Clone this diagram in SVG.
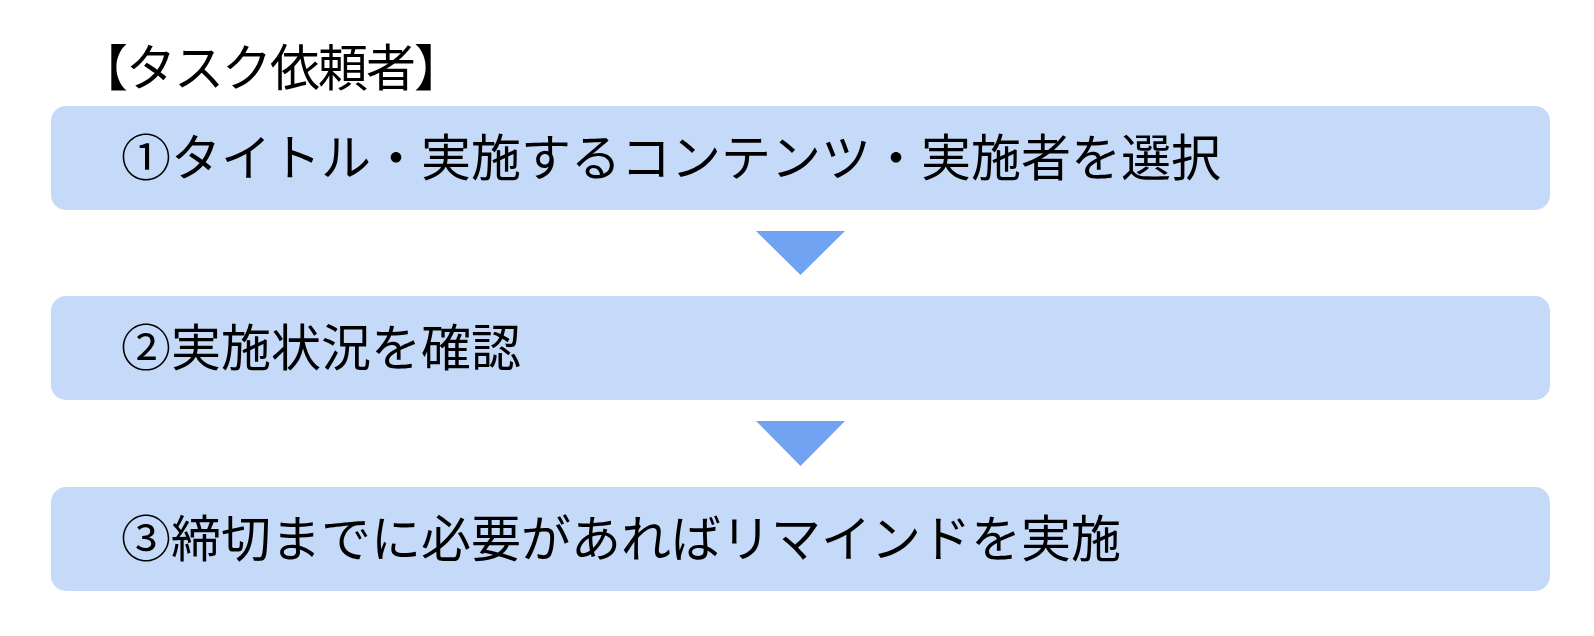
<svg xmlns="http://www.w3.org/2000/svg" width="1594" height="636" viewBox="0 0 1594 636">
<style>
.box{fill:#C5DAF8}
.arr{fill:#71A3F3}
.t{font-family:"Noto Sans CJK JP","Noto Sans CJK SC",sans-serif;fill:#000}
.lbl{font-size:50px}
.ttl{font-size:50px;letter-spacing:-2px}
</style>
<rect width="1594" height="636" fill="#fff"/>
<g id="title"><text class="t ttl" x="78" y="86">【タスク依頼者】</text></g>
<g id="step1">
<rect class="box" x="51" y="106" width="1499" height="104" rx="15"/>
<text class="t lbl" x="121" y="176">①タイトル・実施するコンテンツ・実施者を選択</text>
</g>
<g id="step2">
<rect class="box" x="51" y="296" width="1499" height="104" rx="15"/>
<text class="t lbl" x="121" y="366">②実施状況を確認</text>
</g>
<g id="step3">
<rect class="box" x="51" y="487" width="1499" height="104" rx="15"/>
<text class="t lbl" x="121" y="557">③締切までに必要があればリマインドを実施</text>
</g>
<g id="connectors">
<polygon class="arr" points="756,231 845,231 800.5,275"/>
<polygon class="arr" points="756,421 845,421 800.5,466"/>
</g>
</svg>
